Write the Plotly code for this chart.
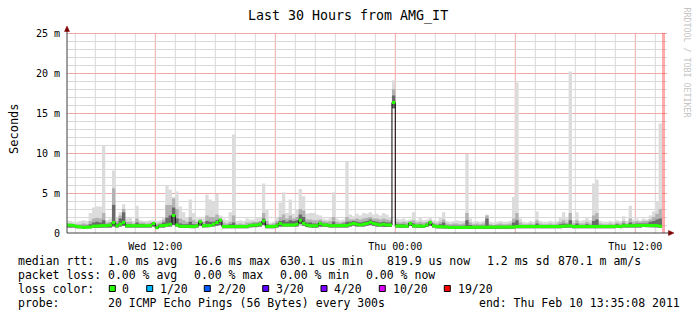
import plotly.graph_objects as go
import pandas as pd

# ---------------- data ----------------
bin_start = "2011-02-09 07:30"          # clock-aligned 10 minute bins
bin_minutes = 10
t_start = "2011-02-09 07:35:08"
t_end = "2011-02-10 13:35:08"

# median rtt (ms) per bin
median_ms = [
    1.0, 1.0, 0.95, 0.8, 0.75, 0.7, 0.7, 0.75, 0.85, 0.9, 0.9, 0.95,
    0.9, 1.0, 1.3, 0.9, 1.1, 1.3, 0.9, 0.85, 0.85, 0.85, 0.9, 0.9,
    0.9, 0.95, 1.2, 0.65, 0.9, 0.95, 1.0, 1.1, 2.2, 1.0, 0.85, 0.8,
    0.8, 0.85, 0.8, 0.9, 1.4, 0.9, 0.9, 0.95, 1.1, 1.3, 1.6, 0.8,
    0.8, 0.8, 0.8, 0.75, 0.75, 0.75, 0.8, 0.95, 1.0, 1.0, 1.1, 1.5,
    0.8, 0.75, 0.8, 0.9, 1.2, 1.0, 1.0, 1.05, 1.0, 1.1, 1.6, 1.2,
    1.0, 0.9, 0.85, 0.9, 1.2, 1.0, 1.0, 0.9, 0.9, 0.9, 0.9, 0.95,
    0.95, 1.1, 1.2, 1.1, 1.0, 1.1, 1.2, 1.35, 1.2, 1.1, 1.0, 1.1,
    1.0, 1.0, 16.3, 0.9, 0.85, 0.9, 0.85, 1.2, 0.9, 0.85, 0.9, 0.85,
    1.0, 1.3, 0.9, 0.8, 0.75, 0.8, 0.75, 0.7, 0.75, 0.75, 0.7, 0.75,
    0.75, 0.75, 0.7, 0.7, 0.75, 0.7, 0.75, 0.7, 0.7, 0.75, 0.7, 0.7,
    0.7, 0.75, 0.75, 0.8, 0.75, 0.75, 0.8, 0.75, 0.75, 0.8, 0.75, 0.75,
    0.75, 0.8, 0.75, 0.8, 0.8, 0.85, 0.85, 0.9, 0.8, 0.8, 0.75, 0.8,
    0.8, 0.75, 0.8, 0.8, 0.75, 0.75, 0.8, 0.75, 0.8, 0.85, 0.8, 0.9,
    0.85, 0.9, 0.9, 0.95, 0.95, 1.0, 0.95, 1.0, 1.0, 0.95, 0.85, None, None,
]

# smoke: lowest ping (ms)
lo_ms = [
    0.7, 0.7, 0.7, 0.6, 0.55, 0.55, 0.55, 0.6, 0.65, 0.7, 0.7, 0.7,
    0.7, 0.7, 0.8, 0.7, 0.8, 0.9, 0.7, 0.65, 0.65, 0.65, 0.7, 0.7,
    0.7, 0.7, 0.8, 0.5, 0.7, 0.7, 0.8, 0.8, 1.0, 0.8, 0.65, 0.6,
    0.6, 0.65, 0.6, 0.7, 0.9, 0.7, 0.7, 0.75, 0.8, 0.9, 1.0, 0.6,
    0.6, 0.6, 0.6, 0.55, 0.55, 0.55, 0.6, 0.7, 0.75, 0.75, 0.8, 1.0,
    0.6, 0.55, 0.6, 0.7, 0.8, 0.75, 0.75, 0.8, 0.75, 0.8, 1.1, 0.9,
    0.75, 0.7, 0.65, 0.7, 0.8, 0.75, 0.75, 0.7, 0.7, 0.7, 0.7, 0.7,
    0.7, 0.8, 0.9, 0.8, 0.75, 0.8, 0.9, 1.0, 0.9, 0.8, 0.75, 0.8,
    0.75, 0.75, 15.6, 0.7, 0.65, 0.7, 0.65, 0.9, 0.7, 0.65, 0.7, 0.65,
    0.75, 0.9, 0.7, 0.6, 0.55, 0.6, 0.55, 0.5, 0.55, 0.55, 0.5, 0.55,
    0.55, 0.55, 0.5, 0.5, 0.55, 0.5, 0.55, 0.5, 0.5, 0.55, 0.5, 0.5,
    0.5, 0.55, 0.55, 0.6, 0.55, 0.55, 0.6, 0.55, 0.55, 0.6, 0.55, 0.55,
    0.55, 0.6, 0.55, 0.6, 0.6, 0.65, 0.65, 0.7, 0.6, 0.6, 0.55, 0.6,
    0.6, 0.55, 0.6, 0.6, 0.55, 0.55, 0.6, 0.55, 0.6, 0.65, 0.6, 0.7,
    0.65, 0.7, 0.7, 0.7, 0.7, 0.75, 0.7, 0.75, 0.75, 0.7, 0.65, None, None,
]

# smoke: dense (dark) part upper edge (ms)
dark_ms = [
    1.1, 1.1, 1.0, 0.9, 0.9, 0.9, 0.9, 1.1, 1.3, 1.4, 1.3, 1.6,
    1.1, 1.2, 3.5, 1.2, 1.8, 2.6, 1.1, 1.1, 1.0, 1.3, 1.1, 1.1,
    1.0, 1.1, 1.3, 0.9, 1.1, 1.3, 1.9, 2.2, 3.2, 1.8, 1.2, 1.1,
    1.1, 1.4, 1.1, 1.1, 1.5, 1.1, 1.5, 1.4, 1.4, 1.6, 1.7, 1.0,
    1.0, 1.1, 1.3, 0.9, 0.9, 0.9, 1.0, 1.1, 1.2, 1.2, 1.3, 1.8,
    1.1, 0.9, 1.0, 1.2, 1.5, 1.6, 1.4, 1.6, 1.5, 1.6, 2.3, 2.0,
    1.3, 1.3, 1.2, 1.2, 1.4, 1.2, 1.2, 1.1, 1.4, 1.1, 1.1, 1.2,
    1.4, 1.4, 1.5, 1.4, 1.3, 1.4, 1.5, 1.7, 1.5, 1.4, 1.3, 1.4,
    1.3, 1.3, 17.2, 1.1, 1.1, 1.1, 1.0, 1.3, 1.2, 1.0, 1.1, 1.0,
    1.2, 1.4, 1.1, 1.0, 1.1, 1.3, 0.9, 0.9, 0.9, 0.9, 0.9, 0.9,
    1.6, 1.0, 0.9, 0.9, 0.9, 0.9, 1.8, 0.9, 0.9, 0.9, 0.9, 0.9,
    0.9, 0.9, 1.3, 1.6, 1.0, 0.9, 1.0, 0.9, 0.9, 1.2, 0.9, 0.9,
    0.9, 1.0, 0.9, 1.0, 1.1, 1.2, 1.1, 1.6, 1.0, 1.2, 0.9, 1.0,
    1.1, 0.9, 1.5, 1.7, 0.9, 0.9, 1.0, 0.9, 1.0, 1.1, 1.0, 1.2,
    1.0, 1.3, 1.1, 1.2, 1.2, 1.2, 1.2, 1.4, 1.5, 1.7, 1.8, None, None,
]

# smoke: middle part upper edge (ms)
mid_ms = [
    1.2, 1.2, 1.1, 1.1, 1.1, 1.2, 1.1, 1.5, 1.8, 1.9, 1.8, 2.5,
    1.3, 1.4, 5.6, 1.5, 2.2, 3.0, 1.4, 1.4, 1.2, 1.8, 1.3, 1.3,
    1.2, 1.3, 1.4, 1.2, 1.3, 1.6, 3.5, 3.5, 4.3, 3.0, 1.8, 1.6,
    1.4, 2.0, 1.6, 1.4, 1.7, 1.4, 2.2, 2.0, 2.0, 2.3, 1.9, 1.3,
    1.2, 1.4, 2.2, 1.1, 1.2, 1.1, 1.3, 1.3, 1.4, 1.4, 1.5, 2.5,
    1.5, 1.1, 1.2, 1.5, 2.0, 2.3, 1.8, 2.2, 1.8, 2.0, 3.0, 2.8,
    1.7, 1.7, 1.6, 1.6, 1.7, 1.5, 1.4, 1.5, 2.0, 1.4, 1.3, 1.4,
    2.0, 1.7, 1.7, 1.8, 1.7, 1.8, 1.9, 2.0, 1.8, 1.8, 1.7, 1.8,
    1.7, 1.6, 18.0, 1.4, 1.3, 1.4, 1.3, 1.5, 1.6, 1.3, 1.4, 1.3,
    1.4, 1.6, 1.3, 1.2, 1.4, 1.7, 1.2, 1.1, 1.2, 1.2, 1.1, 1.2,
    2.5, 1.3, 1.1, 1.2, 1.1, 1.2, 2.2, 1.1, 1.0, 1.1, 1.2, 1.1,
    1.1, 1.2, 1.8, 2.5, 1.3, 1.1, 1.1, 1.2, 1.1, 1.6, 1.2, 1.1,
    1.1, 1.2, 1.1, 1.2, 1.4, 1.6, 1.3, 2.5, 1.2, 1.6, 1.2, 1.2,
    1.4, 1.2, 2.2, 2.5, 1.2, 1.1, 1.1, 1.2, 1.1, 1.3, 1.2, 1.5,
    1.2, 1.8, 1.4, 1.5, 1.4, 1.5, 1.5, 1.7, 2.0, 2.4, 3.0, None, None,
]

# smoke: highest ping (ms)
hi_ms = [
    1.6, 1.5, 1.4, 1.4, 1.5, 1.6, 1.5, 2.5, 3.2, 3.3, 3.3, 11.0,
    1.6, 1.8, 7.8, 2.0, 2.6, 3.6, 1.8, 1.9, 1.5, 3.4, 1.6, 1.5,
    1.5, 1.6, 1.6, 1.5, 1.6, 2.0, 6.0, 5.4, 4.5, 5.2, 3.3, 2.6,
    2.0, 4.2, 2.5, 1.8, 2.0, 1.8, 4.8, 4.2, 3.9, 4.9, 2.2, 1.8,
    1.6, 2.6, 12.3, 1.5, 1.6, 1.5, 1.8, 1.7, 1.7, 1.9, 2.0, 6.2,
    3.0, 1.3, 1.4, 2.0, 3.8, 5.1, 2.5, 4.2, 2.4, 3.0, 5.5, 4.6,
    2.4, 2.5, 2.5, 2.3, 2.2, 1.8, 1.7, 1.9, 5.1, 1.8, 1.6, 1.7,
    8.9, 2.3, 2.1, 2.4, 2.2, 2.5, 2.4, 2.6, 2.3, 2.4, 2.2, 2.5,
    2.3, 2.0, 19.1, 1.8, 1.7, 1.8, 1.6, 1.7, 2.6, 1.6, 1.9, 1.6,
    1.7, 1.9, 1.6, 1.5, 2.0, 2.6, 1.5, 1.4, 1.5, 1.6, 1.5, 1.5,
    9.9, 1.8, 1.4, 1.5, 1.4, 1.5, 2.3, 1.4, 1.3, 1.4, 1.5, 1.4,
    1.4, 1.5, 4.5, 18.8, 1.8, 1.4, 1.3, 1.5, 1.4, 2.7, 1.5, 1.4,
    1.4, 1.5, 1.4, 1.5, 1.9, 2.6, 1.8, 20.2, 1.6, 2.6, 1.5, 1.6,
    1.9, 1.6, 6.2, 6.7, 1.5, 1.4, 1.4, 1.5, 1.4, 1.6, 1.5, 2.1,
    1.5, 3.4, 1.7, 1.8, 1.6, 1.8, 1.7, 2.2, 2.7, 4.0, 13.7, None, None,
]

unknown_bins = ["2011-02-10 13:20"]   # bin drawn as the pink marker

x_major_vals = ["2011-02-09 12:00", "2011-02-09 18:00", "2011-02-10 00:00",
                "2011-02-10 06:00", "2011-02-10 12:00"]
x_major_text = ["Wed 12:00", "", "Thu 00:00", "", "Thu 12:00"]
y_major_vals = [0, 5, 10, 15, 20, 25]
y_major_text = ["0", "5 m", "10 m", "15 m", "20 m", "25 m"]

loss_labels = ["0", "1/20", "2/20", "3/20", "4/20", "10/20", "19/20"]
loss_colors = ["#26ff00", "#00b8ff", "#0059ff", "#5e00ff", "#7e00ff", "#dd00ff", "#ff0000"]

legend_rows = [
    ["median rtt:", "1.0 ms avg", "16.6 ms max", "630.1 us min", "819.9 us now", "1.2 ms sd", "870.1 m am/s"],
    ["packet loss:", "0.00 % avg", "0.00 % max", "0.00 % min", "0.00 % now"],
    ["probe:", "20 ICMP Echo Pings (56 Bytes) every 300s", "end: Thu Feb 10 13:35:08 2011"],
]

# ---------------- layout constants (pixels) ----------------
W, H = 697, 321
PL, PR, PT, PB = 67, 667, 33, 233
MONO = "DejaVu Sans Mono"
row1_x = [17, 107.3, 193.3, 279.3, 386, 486, 557.3]
row2_x = [17, 107.3, 193.3, 279.3, 365]
row4_x = [17, 107.3, 478.3]
sq_x = [109.3, 146.7, 204.3, 262.7, 321, 379.3, 444.3]
lab_x = [120.7, 159.3, 216.7, 275.3, 333.3, 392, 456.7]


def px(xp):
    return (xp - PL) / (PR - PL)


def py(yp):
    return (PB - yp) / (PB - PT)


starts = pd.date_range(bin_start, periods=len(median_ms), freq=f"{bin_minutes}min")
step = pd.Timedelta(minutes=bin_minutes)


def stepped(values):
    xs, ys = [], []
    for s, v in zip(starts, values):
        if v is None:
            continue
        xs += [s, s + step]
        ys += [v, v]
    return xs, ys


fig = go.Figure()


def band(lower, upper, color):
    xs, yl = stepped(lower)
    _, yu = stepped(upper)
    fig.add_trace(go.Scatter(x=xs, y=yl, mode="lines", line=dict(width=0, color=color),
                             hoverinfo="skip", showlegend=False))
    fig.add_trace(go.Scatter(x=xs, y=yu, mode="lines", line=dict(width=0, color=color),
                             fill="tonexty", fillcolor=color, hoverinfo="skip", showlegend=False))


band(lo_ms, hi_ms, "#dcdcdc")
band(lo_ms, mid_ms, "#b2b2b2")
band(lo_ms, dark_ms, "#6a6a6a")

# median line (black) then loss-coloured band
mx, my = stepped(median_ms)
fig.add_trace(go.Scatter(x=mx, y=my, mode="lines", line=dict(width=1, color="#000000"),
                         hoverinfo="skip", showlegend=False))
half = 0.19
band([None if v is None else v - half for v in median_ms],
     [None if v is None else v + half for v in median_ms], loss_colors[0])

# pink marker for the last bin
fig.add_trace(go.Bar(x=[pd.Timestamp(u) + step / 2 for u in unknown_bins],
                     y=[25] * len(unknown_bins), base=[0] * len(unknown_bins),
                     width=bin_minutes * 60 * 1000,
                     marker=dict(color="rgba(255,70,70,0.45)", line=dict(width=0)),
                     hoverinfo="skip", showlegend=False))

# ---------------- annotations ----------------
ann = []


def text(t, xp, yp, size=11.5, anchor="left", color="black", angle=0, family=MONO):
    ann.append(dict(text=t, x=px(xp), y=py(yp), xref="paper", yref="paper",
                    xanchor=anchor, yanchor="middle", showarrow=False, textangle=angle,
                    font=dict(family=family, size=size, color=color)))


text("Last 30 Hours from AMG_IT", 348, 16, size=13.3, anchor="center")
text("Seconds", 14, 129, size=12, anchor="center", angle=-90)
text("RRDTOOL / TOBI OETIKER", 686.5, 62, size=8.3, anchor="center", angle=90, color="#c4c4c4")

for t, xp in zip(legend_rows[0], row1_x):
    text(t, xp - 1, 261)
for t, xp in zip(legend_rows[1], row2_x):
    text(t, xp - 1, 275)
text("loss color:", 16, 289)
for t, xp in zip(loss_labels, lab_x):
    text(t, xp - 1, 289)
for t, xp in zip(legend_rows[2], row4_x):
    text(t, xp - 1, 303)

major_grid = "#f0a8a8"
minor_grid = "#d9d9d9"

# ---------------- grid (drawn between background and data) ----------------
shapes = []
half_px_ms = 0.5 / 8.0          # centre horizontal lines on a pixel row
hour_marks = pd.date_range("2011-02-09 08:00", "2011-02-10 13:00", freq="1h")
major_x = set(pd.to_datetime(x_major_vals))
for h in hour_marks:
    col = major_grid if h in major_x else minor_grid
    shapes.append(dict(type="line", xref="x", yref="y", x0=h, x1=h, y0=0, y1=25,
                       layer="between", line=dict(color=col, width=1)))
for v in range(1, 26):
    col = major_grid if v in y_major_vals else minor_grid
    shapes.append(dict(type="line", xref="x", yref="y", x0=t_start, x1=t_end,
                       y0=v - half_px_ms, y1=v - half_px_ms,
                       layer="between", line=dict(color=col, width=1)))

for c, xp in zip(loss_colors, sq_x):
    shapes.append(dict(type="rect", xref="paper", yref="paper",
                       x0=px(xp), x1=px(xp + 6), y0=py(291.5), y1=py(285.5),
                       fillcolor=c, line=dict(color="black", width=1)))

# axis lines + arrows
axis_col = "#404040"
arrow_col = "#7f0000"
shapes.append(dict(type="line", xref="paper", yref="paper", x0=px(PL), x1=px(PL),
                   y0=py(PB), y1=py(29), line=dict(color=axis_col, width=1)))
shapes.append(dict(type="line", xref="paper", yref="paper", x0=px(PL), x1=px(670),
                   y0=py(PB), y1=py(PB), line=dict(color=axis_col, width=1)))
shapes.append(dict(type="path", xref="paper", yref="paper",
                   path=f"M {px(PL)} {py(26)} L {px(PL-2.5)} {py(31.5)} L {px(PL+2.5)} {py(31.5)} Z",
                   fillcolor=arrow_col, line=dict(color=arrow_col, width=0.5)))
shapes.append(dict(type="path", xref="paper", yref="paper",
                   path=f"M {px(674)} {py(PB)} L {px(668.5)} {py(PB-2.5)} L {px(668.5)} {py(PB+2.5)} Z",
                   fillcolor=arrow_col, line=dict(color=arrow_col, width=0.5)))

tickstyle = dict(ticks="outside", ticklen=4, tickcolor="rgba(0,0,0,0)",
                 tickfont=dict(family=MONO, size=10, color="black"),
                 zeroline=False, showline=False, showgrid=False, fixedrange=True)
fig.update_layout(
    width=W, height=H,
    margin=dict(l=PL, r=W - PR, t=PT, b=H - PB, pad=0),
    paper_bgcolor="white", plot_bgcolor="white",
    showlegend=False, barmode="overlay", bargap=0,
    annotations=ann, shapes=shapes,
    xaxis=dict(type="date", range=[t_start, t_end], tickmode="array",
               tickvals=x_major_vals, ticktext=x_major_text, **tickstyle),
    yaxis=dict(range=[0, 25], tickmode="array", tickvals=y_major_vals,
               ticktext=y_major_text, **tickstyle),
)

fig.write_html("out.html")
